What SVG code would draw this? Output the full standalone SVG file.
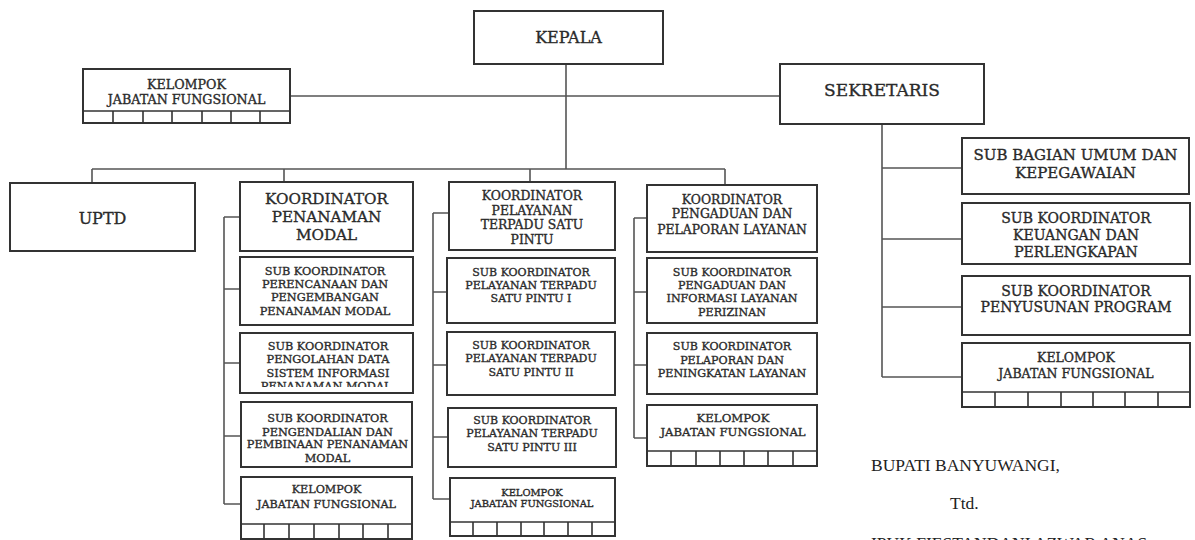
<svg xmlns="http://www.w3.org/2000/svg" width="1195" height="540" viewBox="0 0 1195 540">
<style>
.b{fill:#fff;stroke:#333;stroke-width:2}
.d{stroke:#333;stroke-width:1.6;fill:none}
.c{stroke:#555;stroke-width:1.6;fill:none}
text{font-family:"DejaVu Serif","Liberation Serif",serif;fill:#2a2a2a;stroke:#2a2a2a;stroke-width:0.35;text-anchor:middle}
.s{font-family:"Liberation Serif",serif;text-anchor:start;font-size:17.5px;fill:#222;stroke:none}
</style>
<defs>
<clipPath id="clipPO"><rect x="240" y="333" width="173" height="54"/></clipPath>
</defs>
<rect width="1195" height="540" fill="#fff"/>
<g id="connectors">
<path class="c" d="M566 64V169M290 96H780M92 169H725M92 169V183M284 169V182M530 169V182M725 169V185"/>
<path class="c" d="M224 217V504M224 217H240M224 289H240M224 363H240M224 436H241M224 504H241"/>
<path class="c" d="M433 213V499M433 213H449M433 292H447M433 365H447M433 437H448M433 499H450"/>
<path class="c" d="M634 218V438M634 218H647M634 292H647M634 365H647M634 438H647"/>
<path class="c" d="M882 124V377M882 168H962M882 239H962M882 307H962M882 377H962"/>
</g>
<g id="kepala"><rect class="b" x="474" y="11" width="189" height="53"/><text x="568.5" y="43" font-size="16">KEPALA</text></g>
<g id="kelompok-top"><rect class="b" x="83" y="69" width="207" height="54"/><path class="d" d="M83 111H290M113 111V123M143 111V123M172 111V123M202 111V123M231 111V123M260 111V123"/>
<text x="186.5" y="88.5" font-size="12.7">KELOMPOK</text><text x="186.5" y="103.5" font-size="12.7">JABATAN FUNGSIONAL</text></g>
<g id="sekretaris"><rect class="b" x="780" y="64" width="204" height="60"/><text x="882" y="96" font-size="17">SEKRETARIS</text></g>
<g id="uptd"><rect class="b" x="10" y="183" width="185" height="68"/><text x="102.5" y="224" font-size="16">UPTD</text></g>
<g id="koord-pm"><rect class="b" x="240" y="182" width="173" height="69"/>
<text x="326.5" y="203.5" font-size="15.2">KOORDINATOR</text><text x="326.5" y="221.5" font-size="15.2">PENANAMAN</text><text x="326.5" y="239.5" font-size="15.2">MODAL</text></g>
<g id="sub-perencanaan"><rect class="b" x="240" y="257" width="173" height="68"/>
<text x="325" y="275" font-size="11.3">SUB KOORDINATOR</text><text x="325" y="288" font-size="11.3">PERENCANAAN DAN</text><text x="325" y="301" font-size="11.3">PENGEMBANGAN</text><text x="325" y="315" font-size="11.3">PENANAMAN MODAL</text></g>
<g id="sub-pengolahan"><rect class="b" x="240" y="333" width="173" height="60"/>
<g clip-path="url(#clipPO)"><text x="328" y="350" font-size="11.3">SUB KOORDINATOR</text><text x="328" y="363" font-size="11.3">PENGOLAHAN DATA</text><text x="328" y="377" font-size="11.3">SISTEM INFORMASI</text><text x="328" y="390" font-size="11.3">PENANAMAN MODAL.</text></g></g>
<g id="sub-pengendalian"><rect class="b" x="241" y="402" width="171" height="65"/>
<text x="327.5" y="422" font-size="11.3">SUB KOORDINATOR</text><text x="327.5" y="436" font-size="11.3">PENGENDALIAN DAN</text><text x="327.5" y="448" font-size="11.3">PEMBINAAN PENANAMAN</text><text x="327.5" y="462" font-size="11.3">MODAL</text></g>
<g id="kelompok-pm"><rect class="b" x="241" y="477" width="171" height="62"/><path class="d" d="M241 524H412M264 524V539M289 524V539M314 524V539M339 524V539M363 524V539M388 524V539"/>
<text x="326.5" y="493" font-size="11.2">KELOMPOK</text><text x="326.5" y="508" font-size="11.2">JABATAN FUNGSIONAL</text></g>
<g id="koord-ptsp"><rect class="b" x="449" y="182" width="166" height="68"/>
<text x="532" y="199.5" font-size="12.4">KOORDINATOR</text><text x="532" y="214.5" font-size="12.4">PELAYANAN</text><text x="532" y="228.5" font-size="12.4">TERPADU SATU</text><text x="532" y="243.5" font-size="12.4">PINTU</text></g>
<g id="sub-ptsp-1"><rect class="b" x="447" y="258" width="168" height="65"/>
<text x="531" y="276" font-size="11">SUB KOORDINATOR</text><text x="531" y="289" font-size="11">PELAYANAN TERPADU</text><text x="531" y="302" font-size="11">SATU PINTU I</text></g>
<g id="sub-ptsp-2"><rect class="b" x="447" y="332" width="168" height="63"/>
<text x="531" y="349" font-size="11">SUB KOORDINATOR</text><text x="531" y="362" font-size="11">PELAYANAN TERPADU</text><text x="531" y="376" font-size="11">SATU PINTU II</text></g>
<g id="sub-ptsp-3"><rect class="b" x="448" y="408" width="168" height="59"/>
<text x="532" y="424" font-size="11">SUB KOORDINATOR</text><text x="532" y="437" font-size="11">PELAYANAN TERPADU</text><text x="532" y="451" font-size="11">SATU PINTU III</text></g>
<g id="kelompok-ptsp"><rect class="b" x="450" y="478" width="165" height="58"/><path class="d" d="M450 522H615M473 522V536M497 522V536M521 522V536M544 522V536M568 522V536M592 522V536"/>
<text x="532" y="495.5" font-size="9.9">KELOMPOK</text><text x="532" y="506.5" font-size="9.9">JABATAN FUNGSIONAL</text></g>
<g id="koord-pengaduan"><rect class="b" x="647" y="185" width="170" height="67"/>
<text x="732" y="203.5" font-size="12.4">KOORDINATOR</text><text x="732" y="217.5" font-size="12.4">PENGADUAN DAN</text><text x="732" y="233.5" font-size="12.4">PELAPORAN LAYANAN</text></g>
<g id="sub-pengaduan"><rect class="b" x="647" y="258" width="170" height="65"/>
<text x="732" y="276" font-size="11.1">SUB KOORDINATOR</text><text x="732" y="289" font-size="11.1">PENGADUAN DAN</text><text x="732" y="302" font-size="11.1">INFORMASI LAYANAN</text><text x="732" y="316" font-size="11.1">PERIZINAN</text></g>
<g id="sub-pelaporan"><rect class="b" x="647" y="333" width="170" height="61"/>
<text x="732" y="350" font-size="11.1">SUB KOORDINATOR</text><text x="732" y="363.5" font-size="11.1">PELAPORAN DAN</text><text x="732" y="377" font-size="11.1">PENINGKATAN LAYANAN</text></g>
<g id="kelompok-pengaduan"><rect class="b" x="647" y="405" width="170" height="61"/><path class="d" d="M647 451H817M671 451V466M696 451V466M720 451V466M744 451V466M768 451V466M793 451V466"/>
<text x="733" y="422" font-size="11.7">KELOMPOK</text><text x="733" y="436" font-size="11.7">JABATAN FUNGSIONAL</text></g>
<g id="sub-bagian-umum"><rect class="b" x="962" y="138" width="227" height="56"/>
<text x="1075.5" y="159.5" font-size="15">SUB BAGIAN UMUM DAN</text><text x="1075.5" y="177.5" font-size="15">KEPEGAWAIAN</text></g>
<g id="sub-keuangan"><rect class="b" x="962" y="203" width="228" height="61"/>
<text x="1076" y="223" font-size="14">SUB KOORDINATOR</text><text x="1076" y="240" font-size="14">KEUANGAN DAN</text><text x="1076" y="257" font-size="14">PERLENGKAPAN</text></g>
<g id="sub-penyusunan"><rect class="b" x="962" y="276" width="228" height="59"/>
<text x="1076" y="296" font-size="14">SUB KOORDINATOR</text><text x="1076" y="312" font-size="14">PENYUSUNAN PROGRAM</text></g>
<g id="kelompok-sekretariat"><rect class="b" x="962" y="343" width="228" height="64"/><path class="d" d="M962 392H1190M995 392V407M1028 392V407M1061 392V407M1093 392V407M1125 392V407M1158 392V407"/>
<text x="1076" y="361.5" font-size="12.5">KELOMPOK</text><text x="1076" y="377.5" font-size="12.5">JABATAN FUNGSIONAL</text></g>
<g id="signature">
<text class="s" x="871" y="471">BUPATI BANYUWANGI,</text>
<text class="s" x="950" y="509">Ttd.</text>
<text class="s" x="871" y="549">IPUK FIESTANDANI AZWAR ANAS</text>
</g>
</svg>
